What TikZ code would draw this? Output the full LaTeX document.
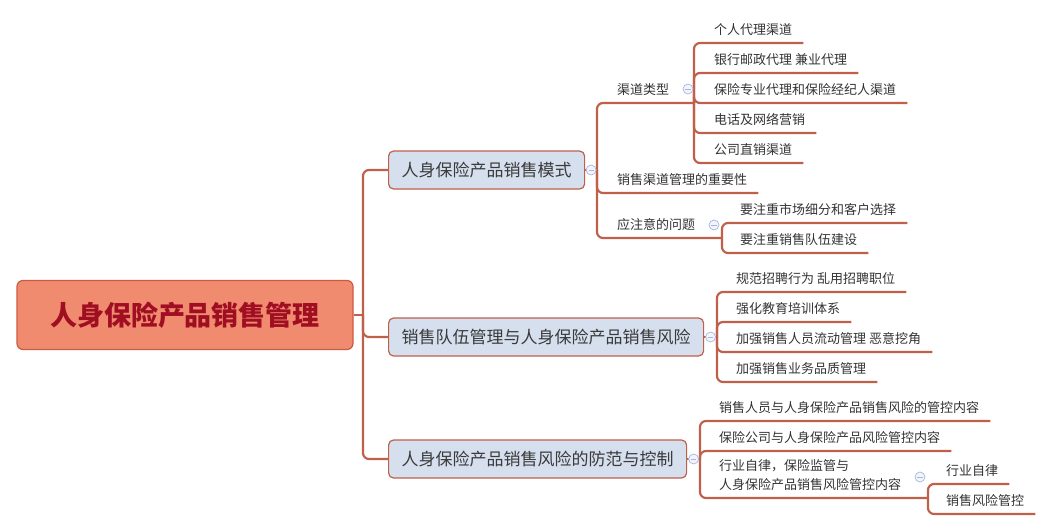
\documentclass[tikz,border=0pt]{standalone}
\usepackage{fontspec}
\newfontfamily\cjk{Noto Sans CJK SC}
\usepackage{tikz}
\usetikzlibrary{positioning, calc}

\definecolor{branchred}{HTML}{C0604A}
\definecolor{rootfill}{HTML}{F08B70}
\definecolor{rootedge}{HTML}{CC5A40}
\definecolor{roottext}{HTML}{A00E22}
\definecolor{mainfill}{HTML}{D6DFEE}
\definecolor{maintext}{HTML}{3A3A3A}
\definecolor{leaftext}{HTML}{333333}
\definecolor{foldedge}{HTML}{A9B6DA}
\definecolor{foldfill}{HTML}{F2F4FB}

\begin{document}
\begin{tikzpicture}[
    x=1pt, y=-1pt,
    rootbox/.style={draw=rootedge, fill=rootfill, rounded corners=6pt, line width=1.2pt,
      minimum width=336pt, minimum height=69pt, text=roottext,
      font=\cjk\bfseries\fontsize{27}{30}\selectfont},
    mainbox/.style={draw=branchred, fill=mainfill, rounded corners=5pt, line width=1.2pt,
      minimum height=38pt, inner xsep=13pt, anchor=west, text=maintext,
      font=\cjk\fontsize{17}{20}\selectfont},
    topic/.style={inner sep=0pt, text depth=8pt, anchor=south west, align=left,
      text=leaftext, font=\cjk\fontsize{13}{19}\selectfont},
    branch/.style={draw=branchred, line width=2.2pt, rounded corners=6pt},
    fold/.style={circle, draw=foldedge, fill=foldfill, line width=0.7pt, minimum size=10pt,
      inner sep=0pt, path picture={\draw[foldedge, line width=0.9pt]
        ([xshift=-2.6pt]path picture bounding box.center) -- ([xshift=2.6pt]path picture bounding box.center);}}
]
\useasboundingbox (0,0) rectangle (1053,530);

% root and main topics
\node (root) [rootbox] at (185,315) {人身保险产品销售管理};
\node (mode) [mainbox] at (388,170) {人身保险产品销售模式};
\node (team) [mainbox] at (388,337) {销售队伍管理与人身保险产品销售风险};
\node (risk) [mainbox] at (388,459) {人身保险产品销售风险的防范与控制};

% sales mode
\node (kind) [topic] at (617,103) {渠道类型};
\node (imp) [topic] at (617,193) {销售渠道管理的重要性};
\node (note) [topic] at (617,238) {应注意的问题};
\node (k1) [topic] at (714,43) {个人代理渠道};
\node (k2) [topic, below=30pt of k1.south west, anchor=south west] {银行邮政代理 兼业代理};
\node (k3) [topic, below=30pt of k2.south west, anchor=south west] {保险专业代理和保险经纪人渠道};
\node (k4) [topic, below=30pt of k3.south west, anchor=south west] {电话及网络营销};
\node (k5) [topic, below=30pt of k4.south west, anchor=south west] {公司直销渠道};
\node (n1) [topic] at (740,223) {要注重市场细分和客户选择};
\node (n2) [topic, below=30pt of n1.south west, anchor=south west] {要注重销售队伍建设};

% sales team
\node (t1) [topic] at (736,292) {规范招聘行为 乱用招聘职位};
\node (t2) [topic, below=30pt of t1.south west, anchor=south west] {强化教育培训体系};
\node (t3) [topic, below=30pt of t2.south west, anchor=south west] {加强销售人员流动管理 恶意挖角};
\node (t4) [topic, below=30pt of t3.south west, anchor=south west] {加强销售业务品质管理};

% risk control
\node (r1) [topic] at (719,421) {销售人员与人身保险产品销售风险的管控内容};
\node (r2) [topic, below=30pt of r1.south west, anchor=south west] {保险公司与人身保险产品风险管控内容};
\node (r3) [topic] at (719,498) {行业自律，保险监管与\\人身保险产品销售风险管控内容};
\node (s1) [topic] at (946,484) {行业自律};
\node (s2) [topic, below=30pt of s1.south west, anchor=south west] {销售风险管控};

% junctions
\coordinate (rootJ) at (363,315);
\coordinate (modeJ) at (597,170);
\coordinate (kindJ) at (694,103);
\coordinate (noteJ) at (722,238);
\coordinate (teamJ) at (717,337);
\coordinate (riskJ) at (700,459);
\coordinate (selfJ) at (928,498);

\draw[branch] (root.east) -- (rootJ);
\foreach \b in {mode,team,risk}
  \draw[branch] (rootJ) |- (\b.west);

\draw[branch] (mode.east) -- (modeJ);
\draw[branch] (modeJ) |- (kindJ);
\draw[branch] (modeJ) |- ([xshift=11pt]imp.south east);
\draw[branch] (modeJ) |- (noteJ);
\foreach \c in {k1,k2,k3,k4,k5}
  \draw[branch] (kindJ) |- ([xshift=11pt]\c.south east);
\foreach \c in {n1,n2}
  \draw[branch] (noteJ) |- ([xshift=11pt]\c.south east);

\draw[branch] (team.east) -- (teamJ);
\foreach \c in {t1,t2,t3,t4}
  \draw[branch] (teamJ) |- ([xshift=11pt]\c.south east);

\draw[branch] (risk.east) -- (riskJ);
\draw[branch] (riskJ) |- ([xshift=11pt]r1.south east);
\draw[branch] (riskJ) |- ([xshift=11pt]r2.south east);
\draw[branch] (riskJ) |- (selfJ);
\foreach \c in {s1,s2}
  \draw[branch] (selfJ) |- ([xshift=11pt]\c.south east);

% fold markers
\node (modeFold) [fold] at ($(mode.east)!0.5!(modeJ)$) {};
\node (teamFold) [fold] at ($(team.east)!0.5!(teamJ)$) {};
\node (riskFold) [fold] at ($(risk.east)!0.5!(riskJ)$) {};
\node (kindFold) [fold] at (688,89) {};
\node (noteFold) [fold] at (714,225) {};
\node (selfFold) [fold] at (920,477) {};
\end{tikzpicture}
\end{document}
